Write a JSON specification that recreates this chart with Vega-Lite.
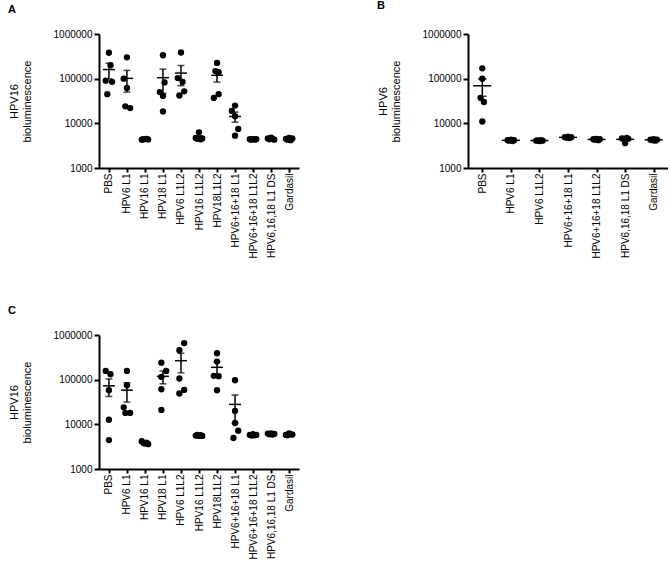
{
  "$schema": "https://vega.github.io/schema/vega-lite/v6.json",
  "padding": {"left": 8, "top": 0, "right": 0, "bottom": 0},
  "config": {
    "view": {"stroke": null},
    "font": "Liberation Sans",
    "axis": {"domainColor": "black", "domainWidth": 2, "tickColor": "black", "tickWidth": 2, "tickSize": 5, "labelFont": "Liberation Sans", "labelFontSize": 10, "labelColor": "black", "titleFont": "Liberation Sans", "titleFontSize": 11, "titleFontWeight": "normal", "titleColor": "black", "grid": false},
    "axisX": {"title": null, "labelAngle": -90, "labelPadding": 1, "tickSize": 4},
    "axisY": {"labelPadding": 2, "titlePadding": 21},
    "title": {"fontSize": 11, "fontWeight": "bold", "anchor": "start", "frame": "bounds", "color": "black", "font": "Liberation Sans"}
  },
  "datasets": {
    "a": [
      {"g": "PBS", "m": 3, "v": 380000}, {"g": "PBS", "m": 4, "v": 200000}, {"g": "PBS", "m": 1, "v": 90000}, {"g": "PBS", "m": 5, "v": 85000}, {"g": "PBS", "m": 2, "v": 45000},
      {"g": "HPV6 L1", "m": 3, "v": 300000}, {"g": "HPV6 L1", "m": 1, "v": 100000}, {"g": "HPV6 L1", "m": 3, "v": 62000}, {"g": "HPV6 L1", "m": 2, "v": 24000}, {"g": "HPV6 L1", "m": 5, "v": 22000},
      {"g": "HPV16 L1", "m": 1, "v": 4300}, {"g": "HPV16 L1", "m": 2, "v": 4400}, {"g": "HPV16 L1", "m": 3, "v": 4450}, {"g": "HPV16 L1", "m": 4, "v": 4500}, {"g": "HPV16 L1", "m": 5, "v": 4350},
      {"g": "HPV18 L1", "m": 3, "v": 335000}, {"g": "HPV18 L1", "m": 4, "v": 82000}, {"g": "HPV18 L1", "m": 1, "v": 50000}, {"g": "HPV18 L1", "m": 3, "v": 41000}, {"g": "HPV18 L1", "m": 3, "v": 18500},
      {"g": "HPV6 L1L2", "m": 3, "v": 385000}, {"g": "HPV6 L1L2", "m": 1, "v": 103000}, {"g": "HPV6 L1L2", "m": 4, "v": 85000}, {"g": "HPV6 L1L2", "m": 5, "v": 52000}, {"g": "HPV6 L1L2", "m": 2, "v": 42000},
      {"g": "HPV16 L1L2", "m": 3, "v": 6300}, {"g": "HPV16 L1L2", "m": 1, "v": 4700}, {"g": "HPV16 L1L2", "m": 2, "v": 4500}, {"g": "HPV16 L1L2", "m": 4, "v": 4400}, {"g": "HPV16 L1L2", "m": 5, "v": 4600},
      {"g": "HPV18L1L2", "m": 3, "v": 225000}, {"g": "HPV18L1L2", "m": 2, "v": 148000}, {"g": "HPV18L1L2", "m": 4, "v": 140000}, {"g": "HPV18L1L2", "m": 4, "v": 45000}, {"g": "HPV18L1L2", "m": 1, "v": 37000},
      {"g": "HPV6+16+18 L1", "m": 3, "v": 25000}, {"g": "HPV6+16+18 L1", "m": 1, "v": 19000}, {"g": "HPV6+16+18 L1", "m": 3, "v": 14500}, {"g": "HPV6+16+18 L1", "m": 5, "v": 7500}, {"g": "HPV6+16+18 L1", "m": 3, "v": 5300},
      {"g": "HPV6+16+18 L1L2", "m": 1, "v": 4400}, {"g": "HPV6+16+18 L1L2", "m": 2, "v": 4300}, {"g": "HPV6+16+18 L1L2", "m": 3, "v": 4450}, {"g": "HPV6+16+18 L1L2", "m": 4, "v": 4350}, {"g": "HPV6+16+18 L1L2", "m": 5, "v": 4400},
      {"g": "HPV6,16,18 L1 DS", "m": 1, "v": 4600}, {"g": "HPV6,16,18 L1 DS", "m": 3, "v": 4800}, {"g": "HPV6,16,18 L1 DS", "m": 2, "v": 4400}, {"g": "HPV6,16,18 L1 DS", "m": 4, "v": 4500}, {"g": "HPV6,16,18 L1 DS", "m": 5, "v": 4300},
      {"g": "Gardasil", "m": 1, "v": 4500}, {"g": "Gardasil", "m": 3, "v": 4700}, {"g": "Gardasil", "m": 2, "v": 4300}, {"g": "Gardasil", "m": 5, "v": 4600}, {"g": "Gardasil", "m": 4, "v": 4200}
    ],
    "b": [
      {"g": "PBS", "m": 3, "v": 170000}, {"g": "PBS", "m": 3, "v": 100000}, {"g": "PBS", "m": 2, "v": 37000}, {"g": "PBS", "m": 4, "v": 30000}, {"g": "PBS", "m": 3, "v": 11000},
      {"g": "HPV6 L1", "m": 1, "v": 4200}, {"g": "HPV6 L1", "m": 2, "v": 4100}, {"g": "HPV6 L1", "m": 3, "v": 4300}, {"g": "HPV6 L1", "m": 4, "v": 4000}, {"g": "HPV6 L1", "m": 5, "v": 4200},
      {"g": "HPV6 L1L2", "m": 1, "v": 4100}, {"g": "HPV6 L1L2", "m": 2, "v": 4150}, {"g": "HPV6 L1L2", "m": 3, "v": 4000}, {"g": "HPV6 L1L2", "m": 4, "v": 4200}, {"g": "HPV6 L1L2", "m": 5, "v": 4100},
      {"g": "HPV6+16+18 L1", "m": 1, "v": 4900}, {"g": "HPV6+16+18 L1", "m": 2, "v": 4800}, {"g": "HPV6+16+18 L1", "m": 3, "v": 5000}, {"g": "HPV6+16+18 L1", "m": 4, "v": 4700}, {"g": "HPV6+16+18 L1", "m": 5, "v": 4900},
      {"g": "HPV6+16+18 L1L2", "m": 1, "v": 4400}, {"g": "HPV6+16+18 L1L2", "m": 2, "v": 4300}, {"g": "HPV6+16+18 L1L2", "m": 3, "v": 4500}, {"g": "HPV6+16+18 L1L2", "m": 4, "v": 4200}, {"g": "HPV6+16+18 L1L2", "m": 5, "v": 4400},
      {"g": "HPV6,16,18 L1 DS", "m": 1, "v": 4600}, {"g": "HPV6,16,18 L1 DS", "m": 2, "v": 4500}, {"g": "HPV6,16,18 L1 DS", "m": 3, "v": 3600}, {"g": "HPV6,16,18 L1 DS", "m": 4, "v": 4700}, {"g": "HPV6,16,18 L1 DS", "m": 5, "v": 4500},
      {"g": "Gardasil", "m": 1, "v": 4300}, {"g": "Gardasil", "m": 2, "v": 4200}, {"g": "Gardasil", "m": 3, "v": 4400}, {"g": "Gardasil", "m": 4, "v": 4100}, {"g": "Gardasil", "m": 5, "v": 4300}
    ],
    "c": [
      {"g": "PBS", "m": 1, "v": 157000}, {"g": "PBS", "m": 4, "v": 132000}, {"g": "PBS", "m": 3, "v": 58000}, {"g": "PBS", "m": 3, "v": 12700}, {"g": "PBS", "m": 3, "v": 4450},
      {"g": "HPV6 L1", "m": 3, "v": 157000}, {"g": "HPV6 L1", "m": 3, "v": 75000}, {"g": "HPV6 L1", "m": 1, "v": 24000}, {"g": "HPV6 L1", "m": 2, "v": 18000}, {"g": "HPV6 L1", "m": 5, "v": 18000},
      {"g": "HPV16 L1", "m": 1, "v": 4200}, {"g": "HPV16 L1", "m": 2, "v": 3800}, {"g": "HPV16 L1", "m": 3, "v": 3700}, {"g": "HPV16 L1", "m": 4, "v": 3900}, {"g": "HPV16 L1", "m": 5, "v": 3600},
      {"g": "HPV18 L1", "m": 2, "v": 240000}, {"g": "HPV18 L1", "m": 5, "v": 157000}, {"g": "HPV18 L1", "m": 2, "v": 115000}, {"g": "HPV18 L1", "m": 2, "v": 61000}, {"g": "HPV18 L1", "m": 2, "v": 21000},
      {"g": "HPV6 L1L2", "m": 5, "v": 660000}, {"g": "HPV6 L1L2", "m": 2, "v": 455000}, {"g": "HPV6 L1L2", "m": 2, "v": 106000}, {"g": "HPV6 L1L2", "m": 5, "v": 59000}, {"g": "HPV6 L1L2", "m": 2, "v": 49000},
      {"g": "HPV16 L1L2", "m": 1, "v": 5600}, {"g": "HPV16 L1L2", "m": 2, "v": 5800}, {"g": "HPV16 L1L2", "m": 3, "v": 5500}, {"g": "HPV16 L1L2", "m": 4, "v": 5700}, {"g": "HPV16 L1L2", "m": 5, "v": 5500},
      {"g": "HPV18L1L2", "m": 3, "v": 390000}, {"g": "HPV18L1L2", "m": 3, "v": 254000}, {"g": "HPV18L1L2", "m": 1, "v": 122000}, {"g": "HPV18L1L2", "m": 4, "v": 120000}, {"g": "HPV18L1L2", "m": 3, "v": 58000},
      {"g": "HPV6+16+18 L1", "m": 3, "v": 97000}, {"g": "HPV6+16+18 L1", "m": 3, "v": 20000}, {"g": "HPV6+16+18 L1", "m": 3, "v": 10700}, {"g": "HPV6+16+18 L1", "m": 5, "v": 7200}, {"g": "HPV6+16+18 L1", "m": 2, "v": 4950},
      {"g": "HPV6+16+18 L1L2", "m": 1, "v": 5800}, {"g": "HPV6+16+18 L1L2", "m": 2, "v": 5600}, {"g": "HPV6+16+18 L1L2", "m": 3, "v": 6000}, {"g": "HPV6+16+18 L1L2", "m": 4, "v": 5700}, {"g": "HPV6+16+18 L1L2", "m": 5, "v": 5800},
      {"g": "HPV6,16,18 L1 DS", "m": 1, "v": 6200}, {"g": "HPV6,16,18 L1 DS", "m": 2, "v": 6000}, {"g": "HPV6,16,18 L1 DS", "m": 3, "v": 6300}, {"g": "HPV6,16,18 L1 DS", "m": 4, "v": 5900}, {"g": "HPV6,16,18 L1 DS", "m": 5, "v": 6100},
      {"g": "Gardasil", "m": 1, "v": 5800}, {"g": "Gardasil", "m": 3, "v": 6300}, {"g": "Gardasil", "m": 2, "v": 5700}, {"g": "Gardasil", "m": 4, "v": 6000}, {"g": "Gardasil", "m": 5, "v": 5900}
    ]
  },
  "vconcat": [
    {
      "hconcat": [
        {
          "title": {"text": "A", "offset": 14},
          "width": 200, "height": 134,
          "data": {"name": "a"},
          "encoding": {"x": {"field": "g", "type": "nominal", "sort": null, "scale": {"type": "point", "padding": 0.55}}},
          "layer": [
            {"mark": {"type": "circle", "size": 40, "color": "black", "opacity": 1},
             "encoding": {"y": {"field": "v", "type": "quantitative", "title": ["HPV16", "bioluminescence"], "scale": {"type": "log", "domain": [1000, 1000000], "nice": false}, "axis": {"values": [1000, 10000, 100000, 1000000], "format": "d"}},
                          "xOffset": {"field": "m", "type": "nominal", "scale": {"type": "point", "range": [-4, 4]}}}},
            {"mark": {"type": "errorbar", "extent": "stderr", "ticks": {"size": 7, "thickness": 1.5, "color": "black"}, "color": "black", "thickness": 1.5},
             "encoding": {"y": {"field": "v", "type": "quantitative", "title": ["HPV16", "bioluminescence"]}}},
            {"mark": {"type": "tick", "size": 12, "thickness": 1.5, "color": "black", "opacity": 1},
             "encoding": {"y": {"aggregate": "mean", "field": "v", "type": "quantitative", "title": ["HPV16", "bioluminescence"]}}}
          ]
        },
        {
          "title": {"text": "B", "offset": 18},
          "width": 200, "height": 134,
          "data": {"name": "b"},
          "encoding": {"x": {"field": "g", "type": "nominal", "sort": null, "scale": {"type": "point", "padding": 0.5}}},
          "layer": [
            {"mark": {"type": "circle", "size": 40, "color": "black", "opacity": 1},
             "encoding": {"y": {"field": "v", "type": "quantitative", "title": ["HPV6", "bioluminescence"], "scale": {"type": "log", "domain": [1000, 1000000], "nice": false}, "axis": {"values": [1000, 10000, 100000, 1000000], "format": "d"}},
                          "xOffset": {"field": "m", "type": "nominal", "scale": {"type": "point", "range": [-5, 5]}}}},
            {"mark": {"type": "errorbar", "extent": "stderr", "ticks": {"size": 9, "thickness": 1.5, "color": "black"}, "color": "black", "thickness": 1.5},
             "encoding": {"y": {"field": "v", "type": "quantitative", "title": ["HPV6", "bioluminescence"]}}},
            {"mark": {"type": "tick", "size": 18, "thickness": 1.5, "color": "black", "opacity": 1},
             "encoding": {"y": {"aggregate": "mean", "field": "v", "type": "quantitative", "title": ["HPV6", "bioluminescence"]}}}
          ]
        }
      ],
      "spacing": 78
    },
    {
      "title": {"text": "C", "offset": 14},
      "width": 200, "height": 134,
      "data": {"name": "c"},
      "encoding": {"x": {"field": "g", "type": "nominal", "sort": null, "scale": {"type": "point", "padding": 0.55}}},
      "layer": [
        {"mark": {"type": "circle", "size": 40, "color": "black", "opacity": 1},
         "encoding": {"y": {"field": "v", "type": "quantitative", "title": ["HPV16", "bioluminescence"], "scale": {"type": "log", "domain": [1000, 1000000], "nice": false}, "axis": {"values": [1000, 10000, 100000, 1000000], "format": "d"}},
                      "xOffset": {"field": "m", "type": "nominal", "scale": {"type": "point", "range": [-4, 4]}}}},
        {"mark": {"type": "errorbar", "extent": "stderr", "ticks": {"size": 7, "thickness": 1.5, "color": "black"}, "color": "black", "thickness": 1.5},
         "encoding": {"y": {"field": "v", "type": "quantitative", "title": ["HPV16", "bioluminescence"]}}},
        {"mark": {"type": "tick", "size": 12, "thickness": 1.5, "color": "black", "opacity": 1},
         "encoding": {"y": {"aggregate": "mean", "field": "v", "type": "quantitative", "title": ["HPV16", "bioluminescence"]}}}
      ]
    }
  ],
  "spacing": 46
}
